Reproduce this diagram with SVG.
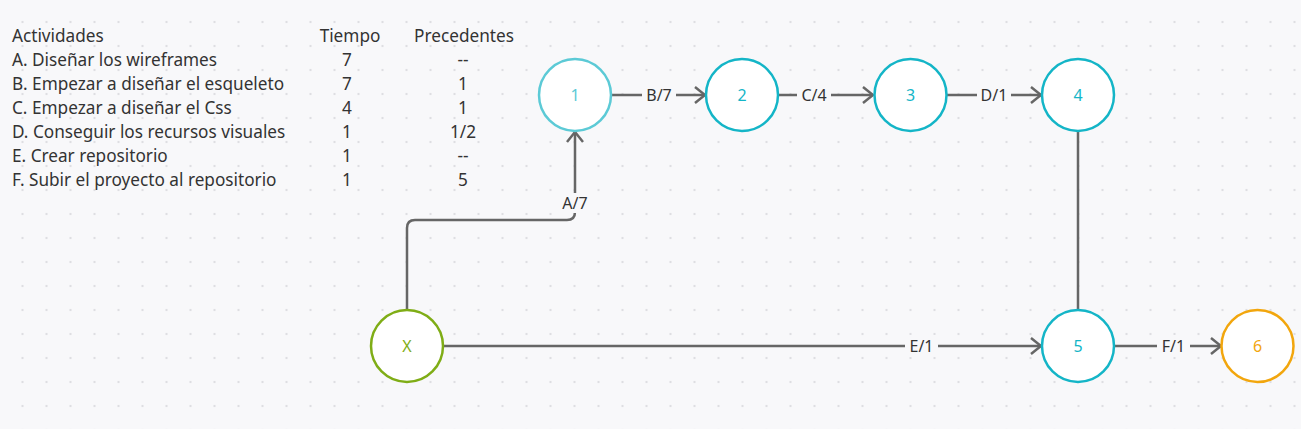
<svg xmlns="http://www.w3.org/2000/svg" width="1301" height="429" viewBox="0 0 1301 429">
<style>
.t{font-family:"Noto Sans","Open Sans",sans-serif;font-size:17.2px;fill:#333}
.c{text-anchor:middle}
.lbl{font-family:"Noto Sans","Open Sans",sans-serif;font-size:16px;fill:#333;text-anchor:middle}
.edge{fill:none;stroke:#666;stroke-width:2.5}
.bg{fill:#f8f8fa}
.node{fill:#fff;stroke-width:2.5}
.nt{font-family:"Noto Sans","Open Sans",sans-serif;font-size:16px;text-anchor:middle}
</style>
<defs>
<pattern id="dots" x="10.5" y="10" width="24" height="24" patternUnits="userSpaceOnUse">
<circle cx="12" cy="12" r="1.2" fill="#dedee2"/>
</pattern>
<marker id="arr" viewBox="0 0 12 18" refX="11" refY="9" markerWidth="12" markerHeight="18" markerUnits="userSpaceOnUse" orient="auto">
<path d="M1,1 L11,9 L1,17" fill="none" stroke="#666" stroke-width="2.5"/>
</marker>
</defs>
<rect width="1301" height="429" fill="#f8f8fa"/>
<rect width="1301" height="429" fill="url(#dots)"/>
<g id="table">
<text class="t" x="12" y="42">Actividades</text>
<text class="t c" x="350" y="42">Tiempo</text>
<text class="t c" x="464" y="42">Precedentes</text>
<text class="t" x="12" y="66">A. Diseñar los wireframes</text>
<text class="t c" x="347" y="66">7</text>
<text class="t c" x="463" y="66">--</text>
<text class="t" x="12" y="90">B. Empezar a diseñar el esqueleto</text>
<text class="t c" x="347" y="90">7</text>
<text class="t c" x="463" y="90">1</text>
<text class="t" x="12" y="114">C. Empezar a diseñar el Css</text>
<text class="t c" x="347" y="114">4</text>
<text class="t c" x="463" y="114">1</text>
<text class="t" x="12" y="138">D. Conseguir los recursos visuales</text>
<text class="t c" x="347" y="138">1</text>
<text class="t c" x="463" y="138">1/2</text>
<text class="t" x="12" y="162">E. Crear repositorio</text>
<text class="t c" x="347" y="162">1</text>
<text class="t c" x="463" y="162">--</text>
<text class="t" x="12" y="186">F. Subir el proyecto al repositorio</text>
<text class="t c" x="347" y="186">1</text>
<text class="t c" x="463" y="186">5</text>
</g>
<g id="connectors">
<path class="edge" d="M611,95 H705" marker-end="url(#arr)"/>
<path class="edge" d="M779,95 H873" marker-end="url(#arr)"/>
<path class="edge" d="M947,95 H1041" marker-end="url(#arr)"/>
<path class="edge" d="M1078,131 V310"/>
<path class="edge" d="M407,310 V228 Q407,220 415,220 H567 Q575,220 575,212 V132" marker-end="url(#arr)"/>
<path class="edge" d="M443,346 H1041" marker-end="url(#arr)"/>
<path class="edge" d="M1114,346 H1221" marker-end="url(#arr)"/>
<rect class="bg" x="642" y="84" width="34" height="22"/>
<text class="lbl" x="659" y="101">B/7</text>
<rect class="bg" x="797" y="84" width="34" height="22"/>
<text class="lbl" x="814" y="101">C/4</text>
<rect class="bg" x="977" y="84" width="34" height="22"/>
<text class="lbl" x="994" y="101">D/1</text>
<rect class="bg" x="558" y="193" width="34" height="20"/>
<text class="lbl" x="575" y="209">A/7</text>
<rect class="bg" x="905" y="335" width="33" height="22"/>
<text class="lbl" x="921.5" y="352">E/1</text>
<rect class="bg" x="1157" y="335" width="33" height="22"/>
<text class="lbl" x="1173.5" y="352">F/1</text>
</g>
<g id="node1"><circle class="node" cx="575" cy="95" r="36" stroke="#5ccad6"/><text class="nt" x="575" y="101" fill="#5ccad6">1</text></g>
<g id="node2"><circle class="node" cx="742" cy="95" r="36" stroke="#14b5c7"/><text class="nt" x="742" y="101" fill="#14b5c7">2</text></g>
<g id="node3"><circle class="node" cx="910.5" cy="95" r="36" stroke="#14b5c7"/><text class="nt" x="910.5" y="101" fill="#14b5c7">3</text></g>
<g id="node4"><circle class="node" cx="1078" cy="95" r="36" stroke="#14b5c7"/><text class="nt" x="1078" y="101" fill="#14b5c7">4</text></g>
<g id="node5"><circle class="node" cx="1078" cy="346" r="36" stroke="#14b5c7"/><text class="nt" x="1078" y="352" fill="#14b5c7">5</text></g>
<g id="node6"><circle class="node" cx="1257.5" cy="346" r="36" stroke="#f2a60d"/><text class="nt" x="1257.5" y="352" fill="#f2a60d">6</text></g>
<g id="nodeX"><circle class="node" cx="407" cy="346" r="36" stroke="#7fad16"/><text class="nt" x="407" y="352" fill="#7fad16">X</text></g>
</svg>
